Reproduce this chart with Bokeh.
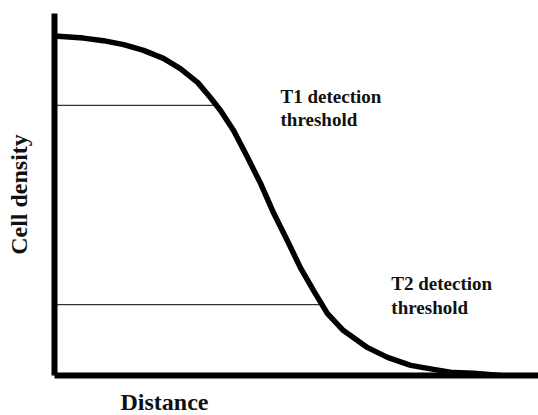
from bokeh.plotting import figure
from bokeh.models import Range1d, ColumnDataSource, FixedTicker, Title
from bokeh.core.properties import value
from bokeh.embed import file_html
from bokeh.resources import INLINE

# curve: cell density vs distance
distance = [0.0, 0.60, 1.01, 1.43, 1.84, 2.25, 2.60, 2.96, 3.22, 3.43, 3.70,
            3.99, 4.26, 4.53, 4.81, 5.08, 5.35, 5.64, 5.97, 6.47, 6.88, 7.36,
            7.83, 8.24, 8.66, 9.22]
density = [0.938, 0.932, 0.925, 0.914, 0.898, 0.876, 0.848, 0.809, 0.768, 0.732,
           0.677, 0.602, 0.530, 0.448, 0.373, 0.298, 0.235, 0.171, 0.124, 0.077,
           0.050, 0.028, 0.017, 0.008, 0.006, 0.0]

# detection thresholds
threshold_names = ["T1 detection\nthreshold", "T2 detection\nthreshold"]
threshold_level = [0.746, 0.196]
threshold_cross = [3.34, 5.50]
label_x = [4.67, 6.96]
label_y = [0.801, 0.282]

FONT = "Liberation Serif"

p = figure(frame_width=484, frame_height=362, output_backend="svg",
           toolbar_location=None,
           x_range=Range1d(0, 10), y_range=Range1d(0, 1),
           min_border_left=54, min_border_right=0, min_border_top=13,
           min_border_bottom=40)
p.outline_line_color = None
p.grid.visible = False
p.background_fill_color = "white"
p.border_fill_color = "white"

for ax in (p.xaxis[0], p.yaxis[0]):
    ax.ticker = FixedTicker(ticks=[])
    ax.major_tick_line_color = None
    ax.minor_tick_line_color = None
    ax.major_tick_out = 0
    ax.major_tick_in = 0
    ax.minor_tick_out = 0
    ax.major_label_standoff = 0
    ax.major_label_text_font_size = "0px"
    ax.axis_line_width = 6
    ax.axis_line_color = "black"

p.yaxis.axis_label = "Cell density"
p.yaxis.axis_label_text_font = FONT
p.yaxis.axis_label_text_font_style = "bold"
p.yaxis.axis_label_text_font_size = "24px"
p.yaxis.axis_label_text_color = "#111111"
p.yaxis.axis_label_standoff = 23

p.add_layout(Title(text="Distance", align="left", offset=66, standoff=22,
                   text_font=FONT, text_font_style="bold",
                   text_font_size="24px", text_color="#111111"), "below")

# threshold lines
ts = ColumnDataSource(dict(x0=[0, 0], x1=threshold_cross, y=threshold_level))
p.segment(x0="x0", y0="y", x1="x1", y1="y", source=ts,
          line_color="#333333", line_width=1.2)

# curve
p.line(distance, density, line_color="black", line_width=5.5,
       line_join="round", line_cap="round")

# threshold labels
ls = ColumnDataSource(dict(x=label_x, y=label_y, t=threshold_names))
p.text(x="x", y="y", text="t", source=ls, text_font=value(FONT),
       text_font_style="bold", text_font_size="19px", text_color="#111111",
       text_baseline="top", text_align="left", text_line_height=1.1)

open("out.html", "w").write(file_html(p, INLINE))
